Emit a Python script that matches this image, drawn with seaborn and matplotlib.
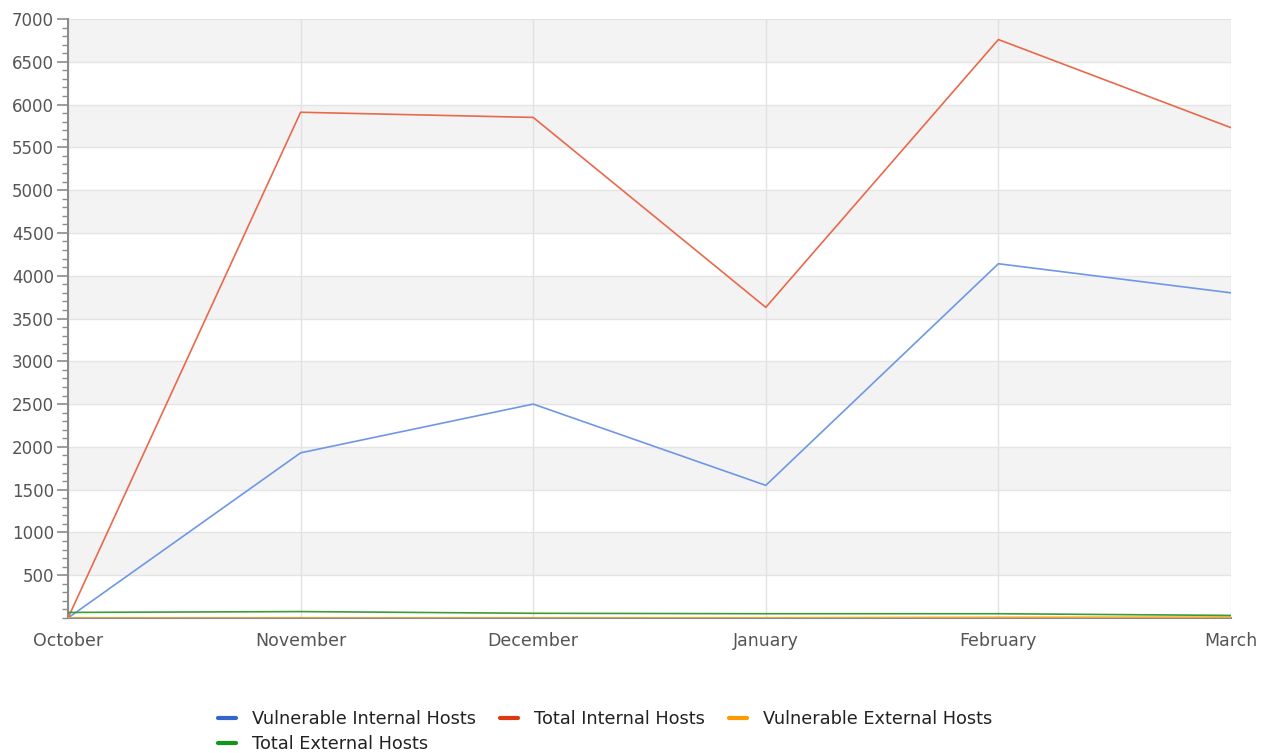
import matplotlib
matplotlib.use("Agg")
import matplotlib.pyplot as plt
from matplotlib.lines import Line2D
from matplotlib.ticker import MultipleLocator
import seaborn as sns
import pandas as pd

months = ["October", "November", "December", "January", "February", "March"]
vuln_internal = [0, 1930, 2500, 1550, 4140, 3800]
total_internal = [0, 5910, 5850, 3630, 6760, 5730]
vuln_external = [0, 0, 0, 2, 8, 10]
total_external = [65, 75, 55, 50, 50, 30]

series_names = ["Vulnerable Internal Hosts", "Total Internal Hosts",
                "Vulnerable External Hosts", "Total External Hosts"]
series_values = [vuln_internal, total_internal, vuln_external, total_external]
line_colors = ["#6f97e6", "#e8694b", "#f5a623", "#3a9c3a"]
legend_colors = ["#3366cc", "#dc3912", "#ff9900", "#109618"]

rows = []
for name, vals in zip(series_names, series_values):
    for i, v in enumerate(vals):
        rows.append({"idx": i, "month": months[i], "value": v, "series": name})
df = pd.DataFrame(rows)

sns.set_style("white")
plt.rcParams["font.family"] = ["DejaVu Sans"]

fig = plt.figure(figsize=(12.67, 7.53), dpi=100)
ax = fig.add_axes([68 / 1267, 1 - 618 / 753, (1231 - 68) / 1267, (618 - 19) / 753])

# alternating bands
for lo in range(500, 7000, 1000):
    ax.axhspan(lo, lo + 500, color="#f3f3f3", zorder=0, lw=0)
for y in range(500, 7001, 500):
    ax.axhline(y, color="#e4e4e4", lw=1, zorder=0.5)
for i in range(len(months)):
    ax.axvline(i, color="#e2e2e2", lw=1, zorder=0.5)

sns.lineplot(data=df, x="idx", y="value", hue="series", hue_order=series_names,
             palette=dict(zip(series_names, line_colors)), ax=ax, legend=False,
             linewidth=1.2, estimator=None, zorder=3)

ax.set_xlim(0, len(months) - 1)
ax.set_ylim(0, 7000)
ax.set_xticks(range(len(months)))
ax.set_xticklabels(months)
ax.yaxis.set_minor_locator(MultipleLocator(100))
ax.set_yticks(range(500, 7001, 500))
ax.set_xlabel("")
ax.set_ylabel("")

for s in ["top", "right"]:
    ax.spines[s].set_visible(False)
for s in ["left", "bottom"]:
    ax.spines[s].set_color("#8c8c8c")
    ax.spines[s].set_linewidth(1.5)

ax.tick_params(axis="y", which="major", length=8, width=1.2, color="#8c8c8c",
               labelsize=12, labelcolor="#555555", pad=2, left=True)
ax.tick_params(axis="y", which="minor", length=4, width=1, color="#8c8c8c", left=True)
ax.tick_params(axis="x", length=0, labelsize=12.5, labelcolor="#555555", pad=10)

# order so that matplotlib's column-major fill gives row-major layout
order = [0, 3, 1, 2]
handles = [Line2D([0], [0], color=legend_colors[i], lw=3) for i in order]
labels = [series_names[i] for i in order]
fig.legend(handles, labels, loc="upper left", bbox_to_anchor=(206 / 1267, 1 - 698 / 753),
           ncol=3, frameon=False, fontsize=12.8, handlelength=1.0, handletextpad=0.9,
           columnspacing=1.35, labelspacing=0.38, labelcolor="#222222",
           borderpad=0.2)

fig.savefig("out.png", dpi=100)
